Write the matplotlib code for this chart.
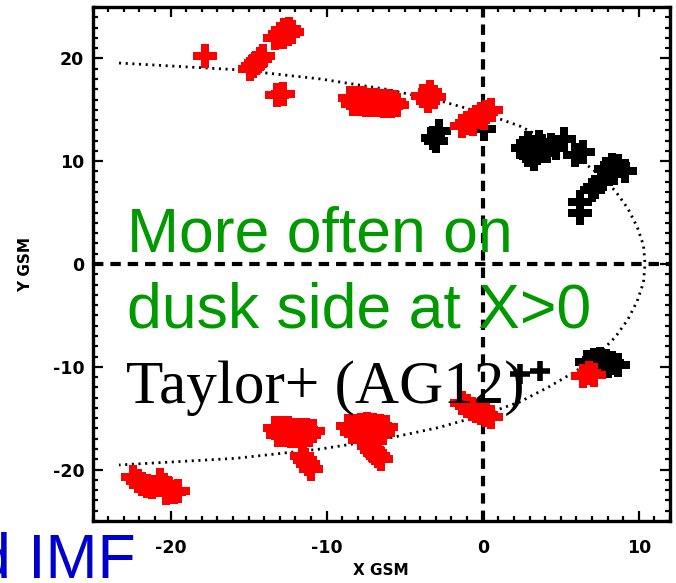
import matplotlib
matplotlib.use('Agg')
from matplotlib import pyplot as plt
from matplotlib.ticker import MultipleLocator

# magnetopause model boundary (X, Y in Re)
mp_x = [-23.3, -15.8, -10.4, -6.2, -2.8, 0.0, 2.4, 4.3, 6.0, 7.4, 8.5, 9.3, 9.9, 10.3, 10.4,
        10.3, 9.9, 9.3, 8.5, 7.4, 6.0, 4.3, 2.4, 0.0, -2.8, -6.2, -10.4, -15.8, -23.3]
mp_y = [19.55, 18.9, 18.0, 17.0, 15.9, 14.7, 13.4, 11.9, 10.4, 8.8, 7.1, 5.4, 3.6, 1.8, 0.0,
        -1.8, -3.6, -5.4, -7.1, -8.8, -10.4, -11.9, -13.4, -14.7, -15.9, -17.0, -18.0, -18.9, -19.55]

# events, black set
black_x = [-3.2, -2.8, -3.0,
           0.1,
           2.6, 2.9, 3.2, 3.5, 3.8, 3.3, 4.1, 4.4, 4.7, 5.2, 2.9, 3.6,
           5.9, 6.4,
           7.9, 8.3, 8.7, 9.1, 8.4,
           7.2, 7.6, 7.0,
           6.25, 6.25,
           6.7, 7.1, 7.5, 7.9, 8.3, 8.7, 7.3, 8.0]
black_y = [12.3, 12.9, 12.0,
           13.1,
           11.3, 10.6, 11.4, 10.8, 11.5, 10.2, 11.0, 11.6, 11.3, 12.2, 11.8, 11.9,
           10.6, 10.9,
           9.2, 9.6, 9.5, 9.0, 8.9,
           7.5, 8.0, 7.2,
           6.0, 5.0,
           -9.5, -9.3, -9.2, -9.4, -9.6, -9.8, -9.8, -9.9]
thin_x = [2.4, 3.7]
thin_y = [-10.7, -10.4]

# events, red set
red_x = [-17.8,
         -14.9, -14.7, -14.5, -14.3, -14.1,
         -13.3, -13.0, -12.7, -12.4, -12.2, -12.8, -12.5,
         -13.2, -12.8,
         -8.5, -8.1, -7.7, -7.3, -6.9, -6.5, -6.1, -5.7,
         -8.3, -7.9, -7.5, -7.1, -6.7, -6.3, -5.9, -5.5,
         -3.8, -3.4, -3.5, -3.1,
         -1.3, -1.0, -0.7, -0.4, -0.1, 0.2, 0.5, -0.6, 0.1,
         6.4, 6.8, 7.1,
         -13.3, -12.9, -12.5, -12.1, -11.7, -11.3, -10.9,
         -13.1, -12.7, -12.3, -11.9, -11.5, -11.1,
         -8.6, -8.2, -7.8, -7.4, -7.0, -6.6, -6.2,
         -8.4, -8.0, -7.6, -7.2, -6.8, -6.4,
         -11.6, -11.4, -11.2, -11.0,
         -7.3, -7.1, -6.9, -6.7, -6.5,
         -1.3, -1.0, -0.7, -0.4, -0.1, 0.2, 0.5,
         -22.4, -22.1, -21.8, -21.5, -21.2,
         -20.7, -20.4, -20.1, -19.8, -19.5, -20.3]
red_y = [20.2,
         19.0, 19.3, 19.6, 19.9, 20.2,
         22.0, 22.4, 22.8, 22.9, 22.6, 22.1, 22.4,
         16.4, 16.5,
         16.1, 16.1, 16.1, 16.0, 16.0, 15.9, 15.9, 15.8,
         15.6, 15.6, 15.5, 15.5, 15.5, 15.4, 15.4, 15.5,
         16.3, 16.7, 15.9, 16.2,
         13.4, 13.7, 14.0, 14.3, 14.6, 14.8, 15.0, 13.6, 14.2,
         -10.9, -10.6, -10.8,
         -16.0, -16.0, -16.0, -16.1, -16.1, -16.1, -16.2,
         -16.6, -16.6, -16.7, -16.7, -16.7, -16.6,
         -15.8, -15.8, -15.7, -15.6, -15.7, -15.8, -15.9,
         -16.3, -16.3, -16.2, -16.2, -16.3, -16.4,
         -18.7, -19.1, -19.5, -19.9,
         -17.7, -18.1, -18.4, -18.7, -19.0,
         -13.5, -13.8, -14.1, -14.3, -14.5, -14.7, -14.9,
         -20.7, -21.1, -21.4, -21.6, -21.7,
         -21.0, -21.5, -21.9, -22.2, -22.1, -22.3]

x_major = [-20, -10, 0, 10]
y_major = [-20, -10, 0, 10, 20]

plt.rcParams['axes.unicode_minus'] = False
plt.rcParams['lines.scale_dashes'] = False

W, H = 676, 583
fig = plt.figure(figsize=(W / 100, H / 100), dpi=100)
ax = fig.add_axes([92.5 / W, 1 - 521 / H, 577.5 / W, 514 / H])

ax.plot(mp_x, mp_y, color='k', lw=2.0, linestyle=(0, (1.5, 3.3)), zorder=2)
ax.axvline(0, color='k', lw=3, linestyle=(0, (7.5, 5)), zorder=2)
ax.axhline(0, color='k', lw=3, linestyle=(0, (7.5, 5)), zorder=2)

ax.plot(black_x, black_y, 'P', color='k', ms=17, mew=0, zorder=3)
ax.plot(thin_x, thin_y, '+', color='k', ms=15, mew=4, zorder=3)
ax.plot(red_x, red_y, 'P', color='red', ms=17, mew=0, zorder=4)

ax.set_xlim(-25, 12)
ax.set_ylim(-25, 25)
ax.set_xticks(x_major)
ax.set_yticks(y_major)
ax.xaxis.set_minor_locator(MultipleLocator(1))
ax.yaxis.set_minor_locator(MultipleLocator(1))
ax.tick_params(which='both', direction='in', top=True, right=True, width=1.6)
ax.tick_params(which='major', length=7)
ax.tick_params(which='minor', length=3.5)
ax.tick_params(axis='x', pad=13)
ax.tick_params(axis='y', pad=6)
for lab in ax.get_xticklabels() + ax.get_yticklabels():
    lab.set_fontsize(12.5)
    lab.set_fontweight('bold')
for sp in ax.spines.values():
    sp.set_linewidth(2.4)

ax.set_xlabel('X GSM', fontsize=11, fontweight='bold')
ax.set_ylabel('Y GSM', fontsize=11, fontweight='bold')
ax.xaxis.set_label_coords(0.5, -(563 - 521) / 514)
ax.yaxis.set_label_coords((33 - 92.5) / 577.5, 0.5)

green = '#009900'
fig.text(127 / W, 1 - 252 / H, 'More often on', color=green, fontsize=45,
         family='Liberation Sans', va='baseline', zorder=6)
fig.text(127 / W, 1 - 327 / H, 'dusk side at X>0', color=green, fontsize=45,
         family='Liberation Sans', va='baseline', zorder=6)
fig.text(126 / W, 1 - 403 / H, 'Taylor+ (AG12)', color='k', fontsize=44,
         family='Liberation Serif', va='baseline', zorder=6)
fig.text(136 / W, 1 - 577 / H, 'd IMF', color='#0000cc', fontsize=45,
         family='Liberation Sans', ha='right', va='baseline', zorder=6)

fig.savefig('out.png', dpi=100)
